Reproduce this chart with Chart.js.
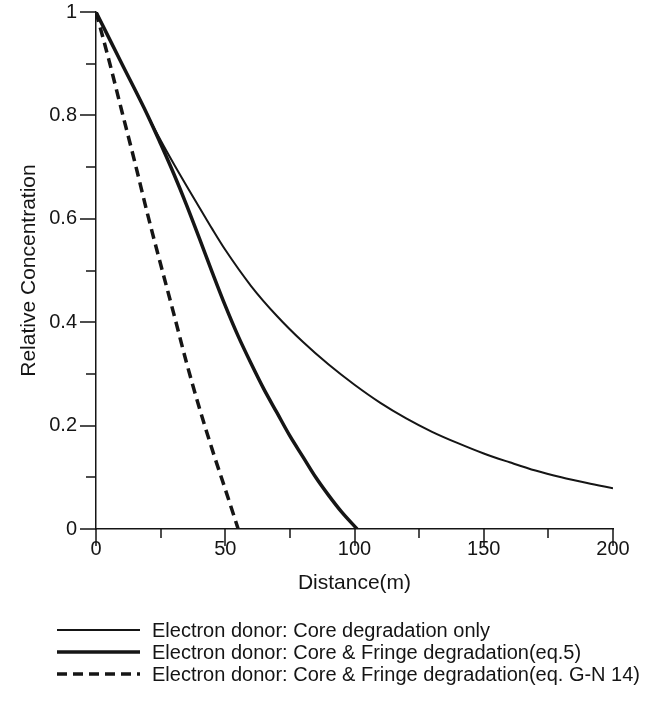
<!DOCTYPE html>
<html>
<head>
<meta charset="utf-8">
<script src="https://cdn.jsdelivr.net/npm/chart.js@4.4.1/dist/chart.umd.min.js"></script>
<style>
  html, body { margin: 0; padding: 0; background: #fff; }
  #wrap { width: 669px; height: 702px; position: relative; }
</style>
</head>
<body>
<div id="wrap"><canvas id="chart"></canvas></div>
<script>
// Electron donor: Core degradation only
const coreDist = [0, 10, 20, 25, 30, 35, 40, 45, 50, 60, 70, 80, 90, 100, 110, 120, 130, 140, 150, 160, 170, 180, 190, 200];
const coreConc = [1, 0.9, 0.8, 0.752, 0.707, 0.664, 0.622, 0.58, 0.54, 0.47, 0.412, 0.362, 0.318, 0.279, 0.244, 0.214, 0.188, 0.166, 0.146, 0.129, 0.113, 0.1, 0.089, 0.079];

// Core & Fringe degradation (eq.5)
const fringeDist = [0, 10, 20, 25, 30, 35, 40, 45, 50, 55, 60, 65, 70, 75, 80, 85, 90, 95, 101];
const fringeConc = [1, 0.9, 0.8, 0.745, 0.688, 0.627, 0.562, 0.496, 0.432, 0.373, 0.32, 0.27, 0.225, 0.18, 0.14, 0.1, 0.065, 0.033, 0];

// Core & Fringe degradation (eq. G-N 14)
const gnDist = [0, 5, 10, 15, 20, 25, 30, 35, 40, 45, 50, 55];
const gnConc = [1, 0.907, 0.808, 0.71, 0.608, 0.512, 0.418, 0.322, 0.234, 0.153, 0.077, 0];

const labels = [
  'Electron donor: Core degradation only',
  'Electron donor: Core & Fringe degradation(eq.5)',
  'Electron donor: Core & Fringe degradation(eq. G-N 14)'
];
const xTicks = [0, 50, 100, 150, 200];
const yTicks = [0, 0.2, 0.4, 0.6, 0.8, 1];

const FONT = '"Liberation Sans", Arial, Helvetica, sans-serif';
const INK = '#151515';

const toPoints = (xs, ys) => xs.map((x, i) => ({ x: x, y: ys[i] }));

// minor/major tick marks and the line legend under the plot
const decorPlugin = {
  id: 'decor',
  afterDraw(chart) {
    const ctx = chart.ctx;
    const xs = chart.scales.x;
    const ys = chart.scales.y;
    const bottom = chart.chartArea.bottom;
    const left = chart.chartArea.left;
    ctx.save();
    ctx.strokeStyle = INK;
    ctx.lineWidth = 1.5;
    ctx.beginPath();
    for (let v = 0; v <= 200; v += 25) {
      const px = Math.round(xs.getPixelForValue(v));
      const len = v % 50 === 0 ? 17 : 9;
      ctx.moveTo(px, bottom);
      ctx.lineTo(px, bottom + len);
    }
    for (let k = 0; k <= 10; k++) {
      const py = Math.round(ys.getPixelForValue(k / 10));
      const len = k % 2 === 0 ? 16 : 10;
      ctx.moveTo(left, py);
      ctx.lineTo(left - len, py);
    }
    ctx.stroke();

    // legend
    ctx.font = '20px ' + FONT;
    ctx.fillStyle = INK;
    ctx.textBaseline = 'middle';
    chart.data.datasets.forEach((ds, i) => {
      const y = 630 + i * 22;
      ctx.beginPath();
      ctx.lineWidth = ds.borderWidth;
      ctx.setLineDash(ds.borderDash || []);
      ctx.moveTo(57, y);
      ctx.lineTo(140, y);
      ctx.stroke();
      ctx.setLineDash([]);
      ctx.fillText(ds.label, 152, y + 1);
    });
    ctx.restore();
  }
};

new Chart(document.getElementById('chart'), {
  type: 'line',
  data: {
    datasets: [
      {
        label: labels[0],
        data: toPoints(coreDist, coreConc),
        borderColor: INK,
        borderWidth: 2,
        pointRadius: 0,
        cubicInterpolationMode: 'monotone'
      },
      {
        label: labels[1],
        data: toPoints(fringeDist, fringeConc),
        borderColor: INK,
        borderWidth: 3.5,
        pointRadius: 0,
        cubicInterpolationMode: 'monotone'
      },
      {
        label: labels[2],
        data: toPoints(gnDist, gnConc),
        borderColor: INK,
        borderWidth: 3.5,
        borderDash: [10, 6],
        pointRadius: 0,
        cubicInterpolationMode: 'monotone'
      }
    ]
  },
  options: {
    responsive: true,
    maintainAspectRatio: false,
    animation: false,
    events: [],
    layout: { padding: { top: 12, right: 56, bottom: 100, left: 0 } },
    plugins: {
      legend: { display: false },
      tooltip: { enabled: false }
    },
    scales: {
      x: {
        type: 'linear',
        min: 0,
        max: 200,
        afterBuildTicks: (scale) => { scale.ticks = xTicks.map(v => ({ value: v })); },
        afterFit: (scale) => { scale.height = 73; scale.paddingLeft = 0; scale.paddingRight = 0; },
        grid: { display: true, drawOnChartArea: false, drawTicks: false },
        border: { display: true, color: INK, width: 1.5 },
        ticks: { padding: 8, color: INK, font: { family: FONT, size: 20 }, maxRotation: 0 },
        title: {
          display: true,
          text: 'Distance(m)',
          color: INK,
          font: { family: FONT, size: 21 },
          padding: { top: 4, bottom: 6 }
        }
      },
      y: {
        type: 'linear',
        min: 0,
        max: 1,
        afterBuildTicks: (scale) => { scale.ticks = yTicks.map(v => ({ value: v })); },
        afterFit: (scale) => { scale.width = 96; scale.paddingTop = 0; scale.paddingBottom = 0; },
        grid: { display: true, drawOnChartArea: false, drawTicks: false },
        border: { display: true, color: INK, width: 1.5 },
        ticks: {
          padding: 19,
          color: INK,
          font: { family: FONT, size: 20 },
          callback: (v) => (v === 0 || v === 1) ? String(v) : v.toFixed(1)
        },
        title: {
          display: true,
          text: 'Relative Concentration',
          color: INK,
          font: { family: FONT, size: 21 },
          padding: { top: 17, bottom: 0 }
        }
      }
    }
  },
  plugins: [decorPlugin]
});
</script>
</body>
</html>
